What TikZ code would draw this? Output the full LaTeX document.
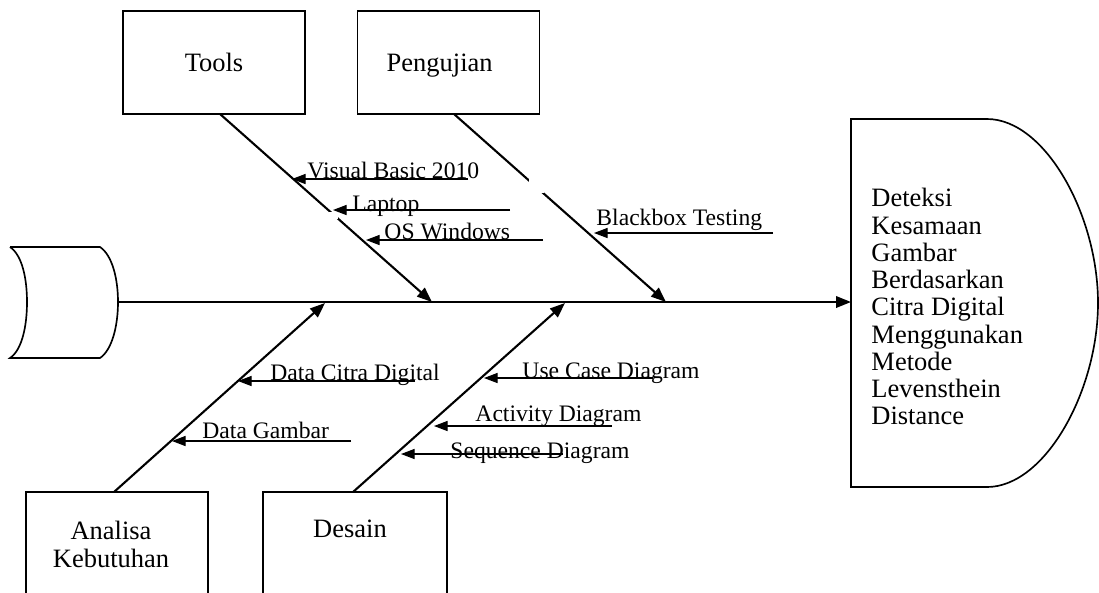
\documentclass[tikz,border=0pt]{standalone}
\usepackage{fontspec}
\setmainfont{Liberation Serif}
\usetikzlibrary{arrows.meta}
\begin{document}
\begin{tikzpicture}[x=0.453pt,y=-0.453pt,
  outline/.style={draw,line width=0.75pt},
  catbox/.style={outline,inner sep=0pt,minimum width=82.4pt,minimum height=46.7pt,
    text depth=0pt,font=\fontsize{12}{12.4}\selectfont},
  bone/.style={line width=0.95pt,-{Triangle[length=6.8pt,width=5.2pt]}},
  sub/.style={line width=0.5pt,-{Triangle[length=6.2pt,width=4.6pt]}},
  cause/.style={inner sep=0pt,anchor=base west,font=\fontsize{10.7}{11}\selectfont},
  bigtext/.style={inner sep=0pt,font=\rmfamily\fontsize{12}{12.4}\selectfont}]
\useasboundingbox (0,0) rectangle (1099,592);

% tail of the fish
\draw[line width=0.75pt] (10,247) -- (100,247)
  .. controls (112,255) and (118,278) .. (118,302)
  .. controls (118,326) and (112,350) .. (100,358) -- (10,358)
  .. controls (22,350) and (27,326) .. (27,302)
  .. controls (27,278) and (22,255) .. (10,247);
\coordinate (tailend) at (118,302);

% head of the fish
\draw[line width=0.75pt] (851,119) -- (987,119)
  .. controls (1045,119) and (1098,215) .. (1098,303)
  .. controls (1098,391) and (1045,487) .. (987,487) -- (851,487) -- cycle;
\coordinate (headw) at (851,302);
\node[bigtext,anchor=north west,align=left,
  font=\rmfamily\fontsize{12}{12.34}\selectfont] (head) at (871,188)
  {Deteksi\\Kesamaan\\Gambar\\Berdasarkan\\Citra Digital\\Menggunakan\\Metode\\Levensthein\\Distance};

% category boxes
\node[catbox] (tools) at (214,62.5) {Tools};
\node[catbox] (pengujian) at (448.5,62.5) {\hspace*{-8pt}Pengujian};
\draw[line width=0.75pt] (26,594) -- (26,492) -- (208,492) -- (208,594);
\draw[line width=0.75pt] (263,594) -- (263,492) -- (447,492) -- (447,594);
\node[bigtext,anchor=north,align=center,font=\rmfamily\fontsize{12}{12.7}\selectfont]
  (analisa) at (111,521) {Analisa\\Kebutuhan};
\node[bigtext,anchor=base] (desain) at (350,537) {Desain};

% spine and bones
\coordinate (tb) at (220,114);  \coordinate (t1) at (432,302);
\coordinate (pb) at (454,114);  \coordinate (p1) at (666,302);
\coordinate (ab) at (114,492);  \coordinate (a1) at (325,303);
\coordinate (db) at (353,492);  \coordinate (d1) at (565,303);
\draw[bone] (tailend) -- (headw);
\draw[bone] (tb) -- (t1);
\draw[bone] (pb) -- (p1);
\draw[bone] (ab) -- (a1);
\draw[bone] (db) -- (d1);

% small breaks in the bones
\fill[white] (329,212) rectangle (338,219);
\fill[white] (529,179) rectangle (544,193);

% causes
\node[cause] (vb) at (307,178) {Visual Basic 2010};
\node[cause] (lap) at (352,211) {Laptop};
\node[cause] (os) at (384,239) {OS Windows};
\node[cause] (bb) at (596,225) {Blackbox Testing};
\node[cause] (dcd) at (270,380) {Data Citra Digital};
\node[cause] (dg) at (202,438) {Data Gambar};
\node[cause] (ucd) at (522,378) {Use Case Diagram};
\node[cause] (ad) at (475,421) {Activity Diagram};
\node[cause] (sd) at (450,458) {Sequence Diagram};

\coordinate (vbR) at (468,179);  \coordinate (vbL) at (292,179);
\coordinate (lapR) at (510,210); \coordinate (lapL) at (333,210);
\coordinate (osR) at (543,240);  \coordinate (osL) at (366,240);
\coordinate (bbR) at (773,233);  \coordinate (bbL) at (594,233);
\coordinate (dcdR) at (415,381); \coordinate (dcdL) at (238,381);
\coordinate (dgR) at (351,441);  \coordinate (dgL) at (172,441);
\coordinate (ucdR) at (653,378); \coordinate (ucdL) at (484,378);
\coordinate (adR) at (612,426);  \coordinate (adL) at (434,426);
\coordinate (sdR) at (563,454);  \coordinate (sdL) at (401,454);
\foreach \c in {vb,lap,os,bb,dcd,dg,ucd,ad,sd}
  \draw[sub] (\c R) -- (\c L);
\end{tikzpicture}
\end{document}
